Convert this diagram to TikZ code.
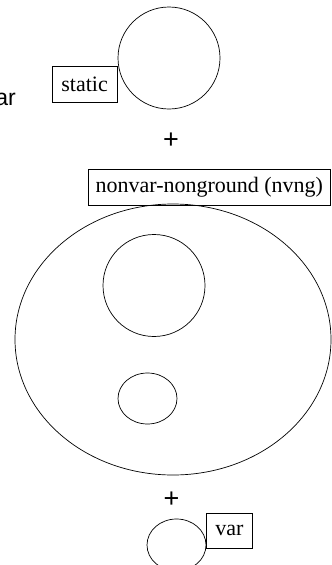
\documentclass[tikz,border=0pt]{standalone}
\usepackage{fontspec}
\setmainfont{Liberation Serif}
\newfontfamily\sansfam{Liberation Sans}
\usetikzlibrary{shapes.geometric,positioning}

\begin{document}
\begin{tikzpicture}[x=1pt, y=-1pt,
  set/.style={draw, ellipse, inner sep=0pt, line width=0.7pt},
  lbl/.style={draw, line width=0.7pt, minimum height=36pt,
    inner xsep=4pt, font=\fontsize{22}{26}\selectfont},
  plus/.style={font=\sansfam\fontsize{27}{30}\selectfont}]
\useasboundingbox (0,0) rectangle (332,565);
\clip (0,0) rectangle (332,565);
\node[font=\sansfam\fontsize{23}{27}\selectfont, anchor=base east, inner xsep=0pt] (cut) at (16,105.5) {ar};
\node[set, minimum width=102pt, minimum height=102pt] (statset) at (169,58) {};
\node[lbl, minimum width=65pt, anchor=north east] (statlbl) at (117.5,66) {static};
\node[plus] (plusa) at (171,141) {+};
\node[lbl, minimum width=242pt, anchor=north west] (nvnglbl) at (88,168.5) {nonvar-nonground (nvng)};
\node[set, minimum width=316pt, minimum height=271pt] (nvngset) at (173,339.5) {};
\node[set, minimum width=102pt, minimum height=102pt] (nvngin) at (154,285.5) {};
\node[set, minimum width=59pt, minimum height=51pt] (nvngsub) at (147.5,398.5) {};
\node[plus] (plusb) at (171.5,500) {+};
\node[set, minimum width=59pt, minimum height=52pt] (varset) at (176.5,545) {};
\node[lbl, minimum width=46pt, minimum height=35.5pt, anchor=north west] (varlbl) at (206,512.5) {var};
\end{tikzpicture}
\end{document}
